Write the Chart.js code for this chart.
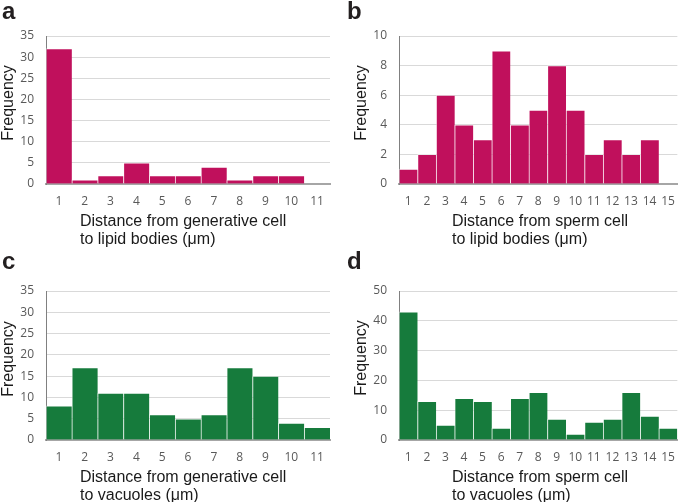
<!DOCTYPE html>
<html>
<head>
<meta charset="utf-8">
<script src="https://cdn.jsdelivr.net/npm/chart.js@4"></script>
<style>
  html, body { margin:0; padding:0; background:#fff; }
  #wrap { position:relative; width:685px; height:502px; overflow:hidden; }
  canvas { position:absolute; }
  .letter { position:absolute; font-family:"Liberation Sans", Arial, sans-serif; font-weight:bold; font-size:24px; line-height:24px; color:#231f20; }
  .xt { position:absolute; font-family:"Liberation Sans", Arial, sans-serif; font-size:16px; line-height:18px; color:#1a1a1a; white-space:nowrap; }
  .yt { position:absolute; width:100px; text-align:center; font-family:"Liberation Sans", Arial, sans-serif; font-size:16px; line-height:18px; color:#1a1a1a; transform:rotate(-90deg); white-space:nowrap; }
</style>
</head>
<body>
<div id="wrap">
  <canvas id="ca" width="340" height="250" style="left:0;top:0"></canvas>
  <canvas id="cb" width="345" height="250" style="left:340px;top:0"></canvas>
  <canvas id="cc" width="340" height="252" style="left:0;top:250px"></canvas>
  <canvas id="cd" width="345" height="252" style="left:340px;top:250px"></canvas>

  <div class="letter" style="left:2px;top:-1px">a</div>
  <div class="letter" style="left:347px;top:-1px">b</div>
  <div class="letter" style="left:2px;top:249px">c</div>
  <div class="letter" style="left:347px;top:249px">d</div>

  <div class="yt" style="left:-42px;top:94px">Frequency</div>
  <div class="yt" style="left:311px;top:94px">Frequency</div>
  <div class="yt" style="left:-42px;top:350px">Frequency</div>
  <div class="yt" style="left:311px;top:349px">Frequency</div>

  <div class="xt" style="left:80px;top:212px">Distance from generative cell<br>to lipid bodies (μm)</div>
  <div class="xt" style="left:452px;top:212px">Distance from sperm cell<br>to lipid bodies (μm)</div>
  <div class="xt" style="left:80px;top:468px">Distance from generative cell<br>to vacuoles (μm)</div>
  <div class="xt" style="left:452px;top:468px">Distance from sperm cell<br>to vacuoles (μm)</div>
</div>
<script>
// ---- data ----
const labels11 = ['1','2','3','4','5','6','7','8','9','10','11'];
const labels15 = ['1','2','3','4','5','6','7','8','9','10','11','12','13','14','15'];
const genLipid   = [32, 1, 2, 5, 2, 2, 4, 1, 2, 2, 0];
const spermLipid = [1, 2, 6, 4, 3, 9, 4, 5, 8, 5, 2, 3, 2, 3, 0];
const genVac     = [8, 17, 11, 11, 6, 5, 6, 17, 15, 4, 3];
const spermVac   = [43, 13, 5, 14, 13, 4, 14, 16, 7, 2, 6, 7, 16, 8, 4];

const MAGENTA = '#c0105c';
const GREEN = '#167b3c';

function makeChart(id, labels, values, color, yMax, yStep, pad, yWidth, xHeight) {
  new Chart(document.getElementById(id), {
    type: 'bar',
    data: {
      labels: labels,
      datasets: [{
        data: values,
        backgroundColor: color,
        borderColor: 'rgba(255,255,255,0.45)',
        borderWidth: {top: 1, left: 1, right: 0, bottom: 0},
        borderSkipped: false,
        barPercentage: 1,
        categoryPercentage: 1
      }]
    },
    options: {
      responsive: false,
      animation: false,
      devicePixelRatio: 1,
      layout: { padding: pad },
      plugins: { legend: { display: false }, tooltip: { enabled: false }, title: { display: false } },
      scales: {
        x: {
          grid: { display: false, drawTicks: false },
          border: { display: true, color: '#a6a6a6', width: 2 },
          ticks: { padding: 10, color: '#595959', font: { family: 'Open Sans', size: 12 }, maxRotation: 0, autoSkip: false },
          afterFit: function(s) { s.height = xHeight; }
        },
        y: {
          min: 0, max: yMax,
          grid: { color: '#d9d9d9', lineWidth: 1, drawTicks: false },
          border: { display: true, color: '#808080', width: 1 },
          ticks: { stepSize: yStep, padding: 12, color: '#595959', font: { family: 'Open Sans', size: 12 } },
          afterFit: function(s) { s.width = yWidth; }
        }
      }
    }
  });
}

makeChart('ca', labels11, genLipid, MAGENTA, 35, 5, {top:36, right:10, left:0, bottom:0}, 46, 66);
makeChart('cb', labels15, spermLipid, MAGENTA, 10, 2, {top:36, right:2, left:0, bottom:0}, 59, 66);
makeChart('cc', labels11, genVac, GREEN, 35, 5, {top:41, right:10, left:0, bottom:0}, 46, 62);
makeChart('cd', labels15, spermVac, GREEN, 50, 10, {top:41, right:2, left:0, bottom:0}, 59, 62);
</script>
</body>
</html>
